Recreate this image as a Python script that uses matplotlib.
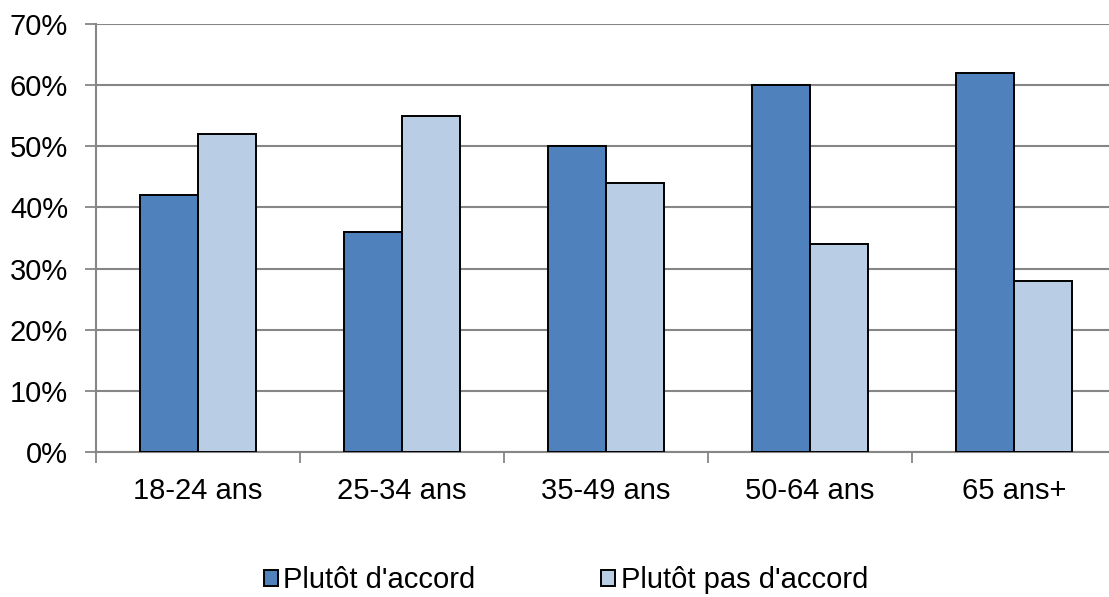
import matplotlib.pyplot as plt
import numpy as np

plt.rcParams['font.family'] = ['Liberation Sans', 'DejaVu Sans']

categories = ["18-24 ans", "25-34 ans", "35-49 ans", "50-64 ans", "65 ans+"]
accord = [42, 36, 50, 60, 62]
pas_accord = [52, 55, 44, 34, 28]
yticks = [0, 10, 20, 30, 40, 50, 60, 70]

fig = plt.figure(figsize=(11.09, 5.97), dpi=100)
ax = fig.add_axes([96 / 1109, 1 - 452 / 597, 1020 / 1109, 428 / 597])

x = np.arange(len(categories))
w = 1 / 3.5
ax.bar(x - w / 2, accord, w, color='#4F81BD', edgecolor='black', linewidth=1.4,
       label="Plutôt d'accord", zorder=3)
ax.bar(x + w / 2, pas_accord, w, color='#B9CDE5', edgecolor='black', linewidth=1.4,
       label="Plutôt pas d'accord", zorder=3)

ax.set_xlim(-0.5, len(categories) - 0.5)
ax.set_ylim(0, 70)
ax.set_yticks(yticks)
ax.set_yticklabels([f"{v}%" for v in yticks], fontsize=21)
ax.set_xticks(x)
ax.set_xticklabels(categories, fontsize=21)
ax.tick_params(axis='x', length=0, pad=18)
ax.set_xticks(np.arange(len(categories) + 1) - 0.5, minor=True)
ax.tick_params(axis='x', which='minor', length=8, width=1.3, color='#868686', direction='out')
ax.tick_params(axis='y', length=8, width=1.3, color='#868686', direction='out', pad=12)

ax.grid(axis='y', color='#868686', linewidth=1.5, zorder=0)
for s in ['top', 'right']:
    ax.spines[s].set_visible(False)
for s in ['left', 'bottom']:
    ax.spines[s].set_color('#868686')
    ax.spines[s].set_linewidth(1.5)

fig.legend(loc='center', bbox_to_anchor=(566 / 1109, 1 - 580 / 597), ncol=2, frameon=False,
           fontsize=21, handlelength=0.48, handleheight=0.48, handletextpad=0.2,
           columnspacing=4.3)

fig.savefig("out.png", dpi=100)
